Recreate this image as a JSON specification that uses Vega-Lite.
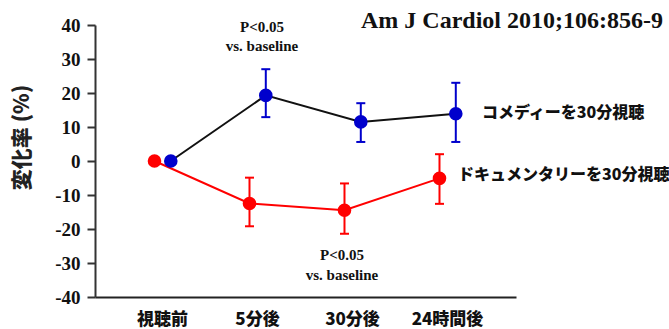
{
  "$schema": "https://vega.github.io/schema/vega-lite/v6.json",
  "width": 421,
  "height": 272,
  "autosize": {"type": "none"},
  "padding": {"left": 95, "top": 25, "right": 153, "bottom": 32},
  "background": "white",
  "config": {
    "view": {"stroke": null},
    "axis": {"grid": false},
    "axisY": {
      "domainColor": "#333", "domainWidth": 2, "tickColor": "#333", "tickWidth": 2, "tickSize": 8,
      "labelFont": "Liberation Serif", "labelFontWeight": "bold", "labelFontSize": 19, "labelColor": "#111", "labelPadding": 7,
      "labelOverlap": false,
      "titleFont": "Noto Sans CJK JP", "titleFontWeight": 900, "titleFontSize": 21, "titleColor": "#222",
      "titleX": -73, "titleY": 112, "titleBaseline": "middle", "titleAlign": "center", "titleAngle": -90
    },
    "axisX": {
      "domainColor": "#222", "domainWidth": 2, "ticks": false,
      "labelFont": "Noto Sans CJK JP", "labelFontWeight": 900, "labelFontSize": 17, "labelColor": "#111",
      "labelPadding": 14, "labelAngle": 0, "labelDx": -2
    }
  },
  "datasets": {
    "pts": [
      {"t": "視聴前", "s": "doc", "v": 0, "lo": null, "hi": null},
      {"t": "5分後", "s": "doc", "v": -12.5, "lo": -19.2, "hi": -4.9},
      {"t": "30分後", "s": "doc", "v": -14.5, "lo": -21.4, "hi": -6.6},
      {"t": "24時間後", "s": "doc", "v": -5.1, "lo": -12.6, "hi": 2.0},
      {"t": "視聴前", "s": "comedy", "v": 0, "lo": null, "hi": null},
      {"t": "5分後", "s": "comedy", "v": 19.3, "lo": 12.9, "hi": 27.0},
      {"t": "30分後", "s": "comedy", "v": 11.5, "lo": 5.6, "hi": 17.0},
      {"t": "24時間後", "s": "comedy", "v": 13.9, "lo": 5.6, "hi": 23.0}
    ]
  },
  "encoding": {
    "x": {
      "field": "t", "type": "nominal", "title": null,
      "scale": {"type": "point", "domain": ["視聴前", "5分後", "30分後", "24時間後"], "padding": 0.7158, "align": 0.4926}
    }
  },
  "layer": [
    {
      "data": {"name": "pts"},
      "transform": [{"filter": "datum.s === 'doc'"}],
      "layer": [
        {"mark": {"type": "line", "color": "#ff0000", "strokeWidth": 2, "xOffset": -7.5},
         "encoding": {"y": {"field": "v", "type": "quantitative", "scale": {"domain": [-40, 40], "nice": false}, "title": "変化率 (%)",
           "axis": {"values": [-40, -30, -20, -10, 0, 10, 20, 30, 40], "labelExpr": "'' + datum.value"}}}},
        {"mark": {"type": "rule", "color": "#ff0000", "strokeWidth": 2, "xOffset": -7.5},
         "encoding": {"y": {"field": "lo", "type": "quantitative", "scale": {"domain": [-40, 40], "nice": false}, "title": "変化率 (%)",
           "axis": {"values": [-40, -30, -20, -10, 0, 10, 20, 30, 40], "labelExpr": "'' + datum.value"}}, "y2": {"field": "hi"}}},
        {"mark": {"type": "tick", "color": "#ff0000", "thickness": 2, "size": 9, "xOffset": -7.5, "opacity": 1},
         "encoding": {"y": {"field": "lo", "type": "quantitative", "scale": {"domain": [-40, 40], "nice": false}, "title": "変化率 (%)",
           "axis": {"values": [-40, -30, -20, -10, 0, 10, 20, 30, 40], "labelExpr": "'' + datum.value"}}}},
        {"mark": {"type": "tick", "color": "#ff0000", "thickness": 2, "size": 9, "xOffset": -7.5, "opacity": 1},
         "encoding": {"y": {"field": "hi", "type": "quantitative", "scale": {"domain": [-40, 40], "nice": false}, "title": "変化率 (%)",
           "axis": {"values": [-40, -30, -20, -10, 0, 10, 20, 30, 40], "labelExpr": "'' + datum.value"}}}},
        {"mark": {"type": "circle", "color": "#ff0000", "size": 185, "opacity": 1, "xOffset": -7.5},
         "encoding": {"y": {"field": "v", "type": "quantitative", "scale": {"domain": [-40, 40], "nice": false}, "title": "変化率 (%)",
           "axis": {"values": [-40, -30, -20, -10, 0, 10, 20, 30, 40], "labelExpr": "'' + datum.value"}}}}
      ]
    },
    {
      "data": {"name": "pts"},
      "transform": [{"filter": "datum.s === 'comedy'"}],
      "layer": [
        {"mark": {"type": "line", "color": "#111111", "strokeWidth": 2, "xOffset": 8.8},
         "encoding": {"y": {"field": "v", "type": "quantitative", "scale": {"domain": [-40, 40], "nice": false}, "title": "変化率 (%)",
           "axis": {"values": [-40, -30, -20, -10, 0, 10, 20, 30, 40], "labelExpr": "'' + datum.value"}}}},
        {"mark": {"type": "rule", "color": "#0000cc", "strokeWidth": 2, "xOffset": 8.8},
         "encoding": {"y": {"field": "lo", "type": "quantitative", "scale": {"domain": [-40, 40], "nice": false}, "title": "変化率 (%)",
           "axis": {"values": [-40, -30, -20, -10, 0, 10, 20, 30, 40], "labelExpr": "'' + datum.value"}}, "y2": {"field": "hi"}}},
        {"mark": {"type": "tick", "color": "#0000cc", "thickness": 2, "size": 9, "xOffset": 8.8, "opacity": 1},
         "encoding": {"y": {"field": "lo", "type": "quantitative", "scale": {"domain": [-40, 40], "nice": false}, "title": "変化率 (%)",
           "axis": {"values": [-40, -30, -20, -10, 0, 10, 20, 30, 40], "labelExpr": "'' + datum.value"}}}},
        {"mark": {"type": "tick", "color": "#0000cc", "thickness": 2, "size": 9, "xOffset": 8.8, "opacity": 1},
         "encoding": {"y": {"field": "hi", "type": "quantitative", "scale": {"domain": [-40, 40], "nice": false}, "title": "変化率 (%)",
           "axis": {"values": [-40, -30, -20, -10, 0, 10, 20, 30, 40], "labelExpr": "'' + datum.value"}}}},
        {"mark": {"type": "circle", "color": "#0000cc", "size": 185, "opacity": 1, "xOffset": 8.8},
         "encoding": {"y": {"field": "v", "type": "quantitative", "scale": {"domain": [-40, 40], "nice": false}, "title": "変化率 (%)",
           "axis": {"values": [-40, -30, -20, -10, 0, 10, 20, 30, 40], "labelExpr": "'' + datum.value"}}}}
      ]
    },
    {
      "data": {"values": [{"t": "24時間後", "y": 39, "text": "Am J Cardiol 2010;106:856-9"}]},
      "mark": {"type": "text", "font": "Liberation Serif", "fontWeight": "bold", "fontSize": 24, "align": "right", "baseline": "alphabetic", "dx": 216, "color": "#111"},
      "encoding": {"y": {"field": "y", "type": "quantitative", "scale": {"domain": [-40, 40], "nice": false}, "title": "変化率 (%)",
        "axis": {"values": [-40, -30, -20, -10, 0, 10, 20, 30, 40], "labelExpr": "'' + datum.value"}}, "text": {"field": "text"}}
    },
    {
      "data": {"values": [{"t": "5分後", "y": 38.0, "text": "P<0.05"}, {"t": "5分後", "y": 32.3, "text": "vs. baseline"}]},
      "mark": {"type": "text", "font": "Liberation Serif", "fontWeight": "bold", "fontSize": 15, "align": "center", "baseline": "alphabetic", "xOffset": 5, "color": "#111"},
      "encoding": {"y": {"field": "y", "type": "quantitative", "scale": {"domain": [-40, 40], "nice": false}, "title": "変化率 (%)",
        "axis": {"values": [-40, -30, -20, -10, 0, 10, 20, 30, 40], "labelExpr": "'' + datum.value"}}, "text": {"field": "text"}}
    },
    {
      "data": {"values": [{"t": "30分後", "y": -29.2, "text": "P<0.05"}, {"t": "30分後", "y": -35.1, "text": "vs. baseline"}]},
      "mark": {"type": "text", "font": "Liberation Serif", "fontWeight": "bold", "fontSize": 15, "align": "center", "baseline": "alphabetic", "xOffset": -10, "color": "#111"},
      "encoding": {"y": {"field": "y", "type": "quantitative", "scale": {"domain": [-40, 40], "nice": false}, "title": "変化率 (%)",
        "axis": {"values": [-40, -30, -20, -10, 0, 10, 20, 30, 40], "labelExpr": "'' + datum.value"}}, "text": {"field": "text"}}
    },
    {
      "data": {"values": [{"t": "24時間後", "y": 14, "text": "コメディーを30分視聴"}]},
      "mark": {"type": "text", "font": "Noto Sans CJK JP", "fontWeight": 900, "fontSize": 16, "align": "left", "baseline": "middle", "dx": 35, "color": "#111"},
      "encoding": {"y": {"field": "y", "type": "quantitative", "scale": {"domain": [-40, 40], "nice": false}, "title": "変化率 (%)",
        "axis": {"values": [-40, -30, -20, -10, 0, 10, 20, 30, 40], "labelExpr": "'' + datum.value"}}, "text": {"field": "text"}}
    },
    {
      "data": {"values": [{"t": "24時間後", "y": -4.2, "text": "ドキュメンタリーを30分視聴"}]},
      "mark": {"type": "text", "font": "Noto Sans CJK JP", "fontWeight": 900, "fontSize": 16, "align": "left", "baseline": "middle", "dx": 11, "color": "#111"},
      "encoding": {"y": {"field": "y", "type": "quantitative", "scale": {"domain": [-40, 40], "nice": false}, "title": "変化率 (%)",
        "axis": {"values": [-40, -30, -20, -10, 0, 10, 20, 30, 40], "labelExpr": "'' + datum.value"}}, "text": {"field": "text"}}
    }
  ]
}
